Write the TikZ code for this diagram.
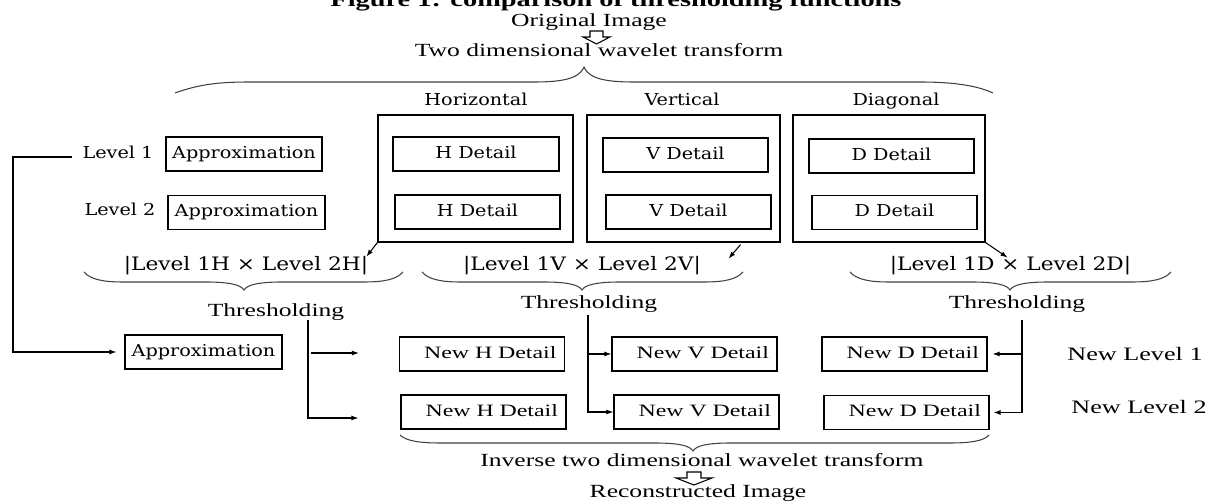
\documentclass[tikz,border=0pt]{standalone}
\usepackage{fontspec}
\setmainfont{Liberation Serif}[FakeStretch=1.38]
\newfontfamily\cellfont{DejaVu Serif}[FakeStretch=1.17]
\usetikzlibrary{arrows.meta,calc}

\tikzset{>={Latex[length=1.4mm,width=1mm]}}

\begin{document}
\begin{tikzpicture}[x=0.02cm, y=-0.02cm,
  lbl/.style={font=\cellfont\fontsize{9.35}{11}\selectfont, inner sep=0pt},
  txt/.style={font=\fontsize{10.55}{12}\selectfont, inner sep=0pt},
  prod/.style={font=\cellfont\fontsize{10.55}{12}\selectfont, inner sep=0pt},
  cell/.style={draw, line width=0.7pt, inner sep=0pt, minimum height=0.68cm,
    text height=0.75em, text depth=0.25em, font=\cellfont\fontsize{9.35}{11}\selectfont},
  newcell/.style={draw, line width=0.7pt, inner xsep=0.16cm, inner ysep=0pt,
    minimum height=0.68cm, text width=2.98cm, align=right,
    text height=0.75em, text depth=0.25em, font=\fontsize{9.86}{11}\selectfont},
  frame/.style={draw, line width=0.7pt, inner sep=0pt, minimum height=2.54cm},
  link/.style={line width=0.6pt},
  curl/.style={line width=0.6pt, black!75},
  hollow/.style={line width=0.6pt}]

\useasboundingbox (0,0) rectangle (1215,502);

% caption line, cut by the top edge
\node[anchor=base, inner sep=0pt, font=\bfseries\fontsize{11.7}{13}\selectfont] (title) at (616,7) {Figure 1: comparison of thresholding functions};

\node[txt, anchor=base] (orig) at (589,27) {Original Image};
\draw[hollow] (590,31) -- (603,31) -- (603,37) -- (610,37) -- (596.5,44) -- (583,37) -- (590,37) -- cycle;
\node[txt, anchor=base] (dwt) at (599,57) {Two dimensional wavelet transform};

% brace over the decomposition
\draw[curl] (175,93) .. controls (200,84) and (220,82) .. (250,82) -- (535,82) .. controls (570,82) and (580,76) .. (584,67) .. controls (588,76) and (598,82) .. (633,82) -- (920,82) .. controls (955,82) and (978,86) .. (993,93);

% sub-bands
\node[lbl, anchor=base] (hname) at (476,106) {Horizontal};
\node[lbl, anchor=base] (vname) at (682,106) {Vertical};
\node[lbl, anchor=base] (dname) at (896,106) {Diagonal};

\node[frame, minimum width=3.9cm] (hframe) at (475.5,178.5) {};
\node[frame, minimum width=3.86cm] (vframe) at (683.5,178.5) {};
\node[frame, minimum width=3.84cm] (dframe) at (889,178.5) {};

\node[lbl, anchor=base] (lvl1) at (118,159) {Level 1};
\node[lbl, anchor=base] (lvl2) at (120,216) {Level 2};

\node[cell, minimum width=3.12cm] (apx1) at (244,154) {Approximation};
\node[cell, minimum width=3.14cm] (apx2) at (246.5,212.5) {Approximation};
\node[cell, minimum width=3.32cm] (hd1) at (476,154) {H Detail};
\node[cell, minimum width=3.3cm] (hd2) at (477.5,212) {H Detail};
\node[cell, minimum width=3.3cm] (vd1) at (685.5,155) {V Detail};
\node[cell, minimum width=3.3cm] (vd2) at (688.5,212) {V Detail};
\node[cell, minimum width=3.3cm] (dd1) at (891.5,156) {D Detail};
\node[cell, minimum width=3.3cm] (dd2) at (894.5,212.5) {D Detail};

\draw[link, ->] (hframe.south west) -- +(-11,14);
\draw[link, ->] ($(vframe.south east)+(-40,2)$) -- +(-12,14);
\draw[link, ->] (dframe.south east) -- +(22,15);

\node[prod, anchor=base] (prodh) at (246,271) {|Level 1H × Level 2H|};
\node[prod, anchor=base] (prodv) at (582,271) {|Level 1V × Level 2V|};
\node[prod, anchor=base] (prodd) at (1010.5,271) {|Level 1D × Level 2D|};

% braces under the products
\foreach \a/\b/\c in {84/244/403, 422/582/743, 850/1010/1171}
  \draw[curl] (\a,272) .. controls (\a+6,279) and (\a+18,282) .. (\a+38,282) -- (\b-38,282) .. controls (\b-14,282) and (\b-3,285) .. (\b,290) .. controls (\b+3,285) and (\b+14,282) .. (\b+38,282) -- (\c-38,282) .. controls (\c-18,282) and (\c-6,279) .. (\c,272);

\node[txt, anchor=base] (thrh) at (276,317) {Thresholding};
\node[txt, anchor=base] (thrv) at (589,309) {Thresholding};
\node[txt, anchor=base] (thrd) at (1017,309) {Thresholding};

% new coefficients
\node[cell, minimum width=3.14cm] (apx3) at (203.5,352) {Approximation};
\node[newcell] (nh1) at (482,354) {New H Detail};
\node[newcell] (nh2) at (483.5,412) {New H Detail};
\node[newcell] (nv1) at (694.5,354) {New V Detail};
\node[newcell] (nv2) at (696.5,412) {New V Detail};
\node[newcell] (nd1) at (904.5,354) {New D Detail};
\node[newcell] (nd2) at (906.5,412.5) {New D Detail};

\node[txt, anchor=base, font=\fontsize{10.8}{12}\selectfont] (nl1) at (1135,361) {New Level 1};
\node[txt, anchor=base, font=\fontsize{10.8}{12}\selectfont] (nl2) at (1139,414) {New Level 2};

% approximation is passed on unchanged
\coordinate (fb) at (13,157);
\draw[link, ->] ($(lvl1.base west)+(-10,-2)$) -- (fb) |- ($(apx3.west)+(-8,0)$);

\draw[link, ->] (308,320) |- ($(nh2.west)+(-42,6)$);
\draw[link, ->] ($(nh1.west)+(-88,-1)$) -- ($(nh1.west)+(-40,-1)$);
\draw[link, ->] (588,315) |- (nv1.west);
\draw[link, ->] (588,315) |- (nv2.west);
\draw[link, ->, shorten >=0.1cm] (1022,320) |- (nd1.east);
\draw[link, ->, shorten >=0.08cm] (1022,320) |- (nd2.east);

% brace over the reconstruction
\draw[curl] (400,435) .. controls (406,441) and (420,443) .. (440,443) -- (655,443) .. controls (680,443) and (690,446) .. (693,451) .. controls (696,446) and (706,443) .. (731,443) -- (950,443) .. controls (970,443) and (984,441) .. (989,435);

\node[txt, anchor=base] (idwt) at (702,467) {Inverse two dimensional wavelet transform};
\draw[hollow] (687,472) -- (701,472) -- (701,478) -- (712,478) -- (694,485) -- (676,478) -- (687,478) -- cycle;
\node[txt, anchor=base] (rec) at (698,498) {Reconstructed Image};
\end{tikzpicture}
\end{document}
